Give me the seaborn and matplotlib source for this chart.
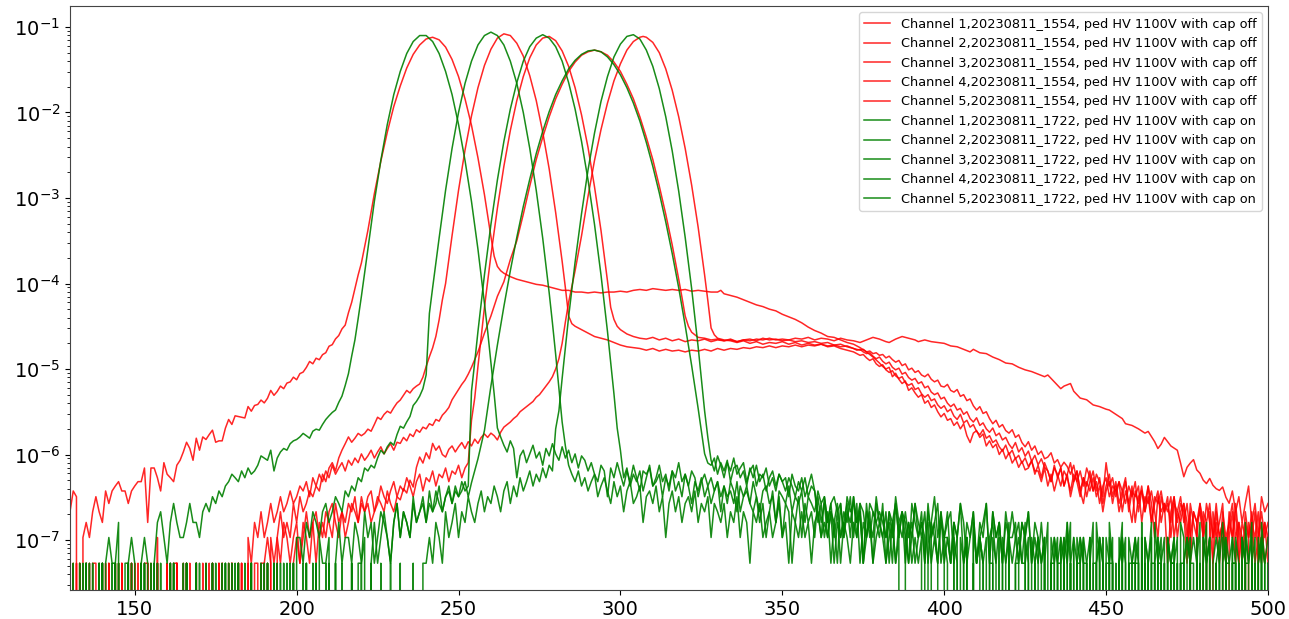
import numpy as np
import matplotlib
matplotlib.use("Agg")
import matplotlib.pyplot as plt
import seaborn as sns

# one histogram count as a fraction of all entries
UNIT = 5.35e-8

labels = [
    "Channel 1,20230811_1554, ped HV 1100V with cap off",
    "Channel 2,20230811_1554, ped HV 1100V with cap off",
    "Channel 3,20230811_1554, ped HV 1100V with cap off",
    "Channel 4,20230811_1554, ped HV 1100V with cap off",
    "Channel 5,20230811_1554, ped HV 1100V with cap off",
    "Channel 1,20230811_1722, ped HV 1100V with cap on",
    "Channel 2,20230811_1722, ped HV 1100V with cap on",
    "Channel 3,20230811_1722, ped HV 1100V with cap on",
    "Channel 4,20230811_1722, ped HV 1100V with cap on",
    "Channel 5,20230811_1722, ped HV 1100V with cap on",
]
colors = ["red"] * 5 + ["green"] * 5
x_ticks = [150, 200, 250, 300, 350, 400, 450, 500]
y_ticks = [1e-7, 1e-6, 1e-5, 1e-4, 1e-3, 1e-2, 1e-1]


def digits(s):
    return [int(c) for c in s if c.isdigit()]


def rng(a, b, step=1):
    return list(range(a, b + 1, step))


# ---------------- cap off, channel 1 ----------------
r1_left = [4, 7, 6, 0, 2, 3, 2, 4, 6, 4,
           3, 7, 5, 7, 8, 9, 7, 7, 5, 7,
           8, 9, 9, 13, 3, 13, 13, 10, 7, 15,
           11, 10, 9, 14, 16, 20, 26, 22, 16, 29,
           21, 30, 28, 32, 36, 26, 27, 27, 38, 48,
           42, 53, 52, 51, 50, 68, 60, 70, 72, 81,
           75, 85, 105, 92, 102, 118, 110, 128, 132, 150,
           140, 165, 172, 195, 229, 215, 250, 240, 275, 290,
           345, 360, 420, 460, 550, 610, 850]
r1_core_x = [217, 218, 219, 220] + rng(222, 260, 2) + [261, 262, 263, 264, 266] + rng(268, 330, 2) + [331] + rng(332, 380, 2) + rng(381, 425)
r1_core_log = ([-4.22, -4.06, -3.90, -3.76]
               + [-3.38, -2.95, -2.57, -2.23, -1.93, -1.69, -1.48, -1.32, -1.21, -1.14,
                  -1.12, -1.15, -1.235, -1.38, -1.58, -1.84, -2.15, -2.53, -2.96, -3.45]
               + [-3.68, -3.80, -3.85, -3.88, -3.92]
               + [-3.95, -3.97, -3.99, -4.01, -4.02, -4.04, -4.06, -4.08, -4.08, -4.10,
                  -4.10, -4.11, -4.10, -4.11, -4.10, -4.10, -4.09, -4.10, -4.08, -4.07,
                  -4.08, -4.06, -4.07, -4.08, -4.07, -4.08, -4.07, -4.09, -4.08, -4.09,
                  -4.10, -4.10]
               + [-4.08]
               + [-4.12, -4.14, -4.16, -4.19, -4.22, -4.25, -4.27, -4.30, -4.32, -4.36,
                  -4.39, -4.42, -4.46, -4.51, -4.55, -4.58, -4.62, -4.63, -4.66, -4.69,
                  -4.71, -4.75, -4.80, -4.86, -4.93]
               + [-4.97, -5.00, -4.98, -5.09, -5.05, -5.12, -5.17, -5.14, -5.25, -5.22,
                  -5.28, -5.33, -5.30, -5.40, -5.37, -5.45, -5.42, -5.50, -5.56, -5.52,
                  -5.60, -5.58, -5.66, -5.62, -5.70, -5.64, -5.78, -5.86, -5.75, -5.72,
                  -5.80, -5.76, -5.90, -5.84, -5.92, -5.88, -6.00, -5.94, -6.05, -5.98,
                  -6.10, -6.04, -6.15, -6.08, -6.18])
r1_right = [13, 16, 11, 14, 10, 15, 12, 9, 13, 11, 8, 12, 10, 7, 11, 9, 6, 10, 8, 12,
            7, 9, 5, 8, 10, 6, 8, 7, 9, 4, 7, 5, 8, 3, 6, 7, 4, 8, 5, 2,
            6, 4, 5, 1, 4, 6, 3, 5, 4, 1, 5, 3, 2, 5, 3, 0, 4, 2, 5, 2,
            3, 1, 4, 2, 5, 2, 0, 3, 2, 4, 1, 2, 4, 2, 3]

# ---------------- cap off, channel 2 ----------------
r2_left = digits("0010010001 1000100100 0100011000 0010010100 0001001010 0100010010 01") + [
    1, 0, 2, 1, 2, 4, 2, 3, 2, 5, 3, 6, 4, 5, 7, 6, 8, 7,
    11, 9, 13, 15, 12, 17, 21, 25, 30, 26, 29, 33, 31, 33, 37, 35, 42, 51, 48, 55,
    60, 57, 66, 75, 81, 92, 105, 98, 110, 118, 125, 150, 200, 260, 330, 450, 700, 1200]
r2_core_x = rng(246, 282, 2) + rng(283, 288) + rng(290, 306, 2) + rng(308, 374, 2) + rng(375, 438)
r2_core_log = ([-4.00, -3.44, -2.91, -2.44, -2.04, -1.71, -1.45, -1.26, -1.13, -1.08,
                -1.10, -1.19, -1.34, -1.57, -1.86, -2.23, -2.66, -3.17, -3.74]
               + [-4.05, -4.38, -4.47, -4.50, -4.52, -4.54]
               + [-4.58, -4.62, -4.64, -4.66, -4.69, -4.72, -4.74, -4.75, -4.76]
               + [-4.78, -4.76, -4.79, -4.77, -4.79, -4.78, -4.80, -4.78, -4.79, -4.77,
                  -4.79, -4.76, -4.78, -4.76, -4.77, -4.75, -4.76, -4.74, -4.75, -4.73,
                  -4.75, -4.73, -4.74, -4.72, -4.74, -4.72, -4.73, -4.71, -4.73, -4.72,
                  -4.74, -4.73, -4.76, -4.78]
               + [-4.77, -4.80, -4.79, -4.82, -4.81, -4.84, -4.83, -4.87, -4.85, -4.89,
                  -4.92, -4.90, -4.96, -4.94, -5.01, -4.99, -5.04, -5.02, -5.07, -5.09,
                  -5.06, -5.12, -5.15, -5.13, -5.20, -5.21, -5.18, -5.25, -5.27, -5.24,
                  -5.32, -5.30, -5.37, -5.35, -5.43, -5.48, -5.44, -5.52, -5.50, -5.58,
                  -5.64, -5.60, -5.68, -5.65, -5.72, -5.75, -5.71, -5.80, -5.77, -5.86,
                  -5.91, -5.85, -5.95, -5.90, -6.00, -5.96, -6.05, -6.03, -5.98, -6.10,
                  -6.06, -6.15, -6.09, -6.14])
r2_right = [11, 14, 9, 12, 8, 13, 10, 7, 11, 9, 6, 15, 8, 10, 6, 9, 7, 5, 8, 6,
            9, 4, 7, 5, 8, 3, 6, 5, 7, 4, 6, 2, 5, 4, 6, 3, 5, 2, 4, 3,
            0, 4, 3, 5, 2, 3, 1, 4, 2, 3, 5, 2, 3, 1, 4, 2, 3, 0, 2, 3, 1, 2]

# ---------------- cap off, channel 3 ----------------
r3_left = digits("0001000100 0100100010 0010001001 0000110010 0100010001 0010100100 0101001000 01") + [
    2, 1, 3, 2, 1, 3, 4, 2, 3, 2, 4, 5, 3, 2, 4, 3, 5, 4, 6, 3,
    5, 4, 6, 7, 4, 5, 8, 6, 5, 7, 9, 6, 8, 7, 10, 8, 6, 9, 11, 7,
    10, 9, 12, 8, 11, 10, 13, 9, 12, 11, 14, 10, 13, 15]
r3_core_x = [254, 255, 256] + rng(258, 296, 2) + [297, 298, 299, 300] + rng(302, 372, 2) + rng(373, 431)
r3_core_log = ([-5.6, -5.34, -4.97]
               + [-4.28, -3.67, -3.12, -2.63, -2.21, -1.86, -1.58, -1.36, -1.21, -1.13,
                  -1.11, -1.16, -1.28, -1.46, -1.71, -2.03, -2.41, -2.87, -3.38, -3.97]
               + [-4.28, -4.42, -4.50, -4.54]
               + [-4.59, -4.62, -4.64, -4.65, -4.63, -4.66, -4.64, -4.67, -4.65, -4.68,
                  -4.66, -4.67, -4.65, -4.68, -4.66, -4.67, -4.65, -4.68, -4.66, -4.65,
                  -4.67, -4.64, -4.66, -4.65, -4.67, -4.66, -4.68, -4.67, -4.69, -4.68,
                  -4.70, -4.69, -4.72, -4.71, -4.74, -4.76]
               + [-4.78, -4.77, -4.80, -4.82, -4.81, -4.85, -4.88, -4.86, -4.91, -4.94,
                  -4.92, -4.98, -5.01, -4.99, -5.06, -5.04, -5.10, -5.13, -5.11, -5.17,
                  -5.15, -5.22, -5.20, -5.27, -5.30, -5.28, -5.35, -5.33, -5.40, -5.44,
                  -5.41, -5.48, -5.46, -5.53, -5.50, -5.58, -5.62, -5.57, -5.66, -5.63,
                  -5.70, -5.74, -5.69, -5.78, -5.75, -5.83, -5.80, -5.88, -5.93, -5.86,
                  -5.97, -5.92, -6.02, -5.96, -6.08, -6.01, -6.12, -6.05, -6.15])
r3_right = [12, 9, 14, 10, 13, 8, 11, 15, 9, 12, 7, 10, 6, 9, 12, 7, 10, 5, 8, 11,
            6, 9, 5, 7, 10, 4, 7, 6, 8, 3, 6, 5, 7, 4, 2, 6, 4, 5, 3, 6,
            2, 4, 5, 3, 1, 4, 3, 5, 2, 3, 0, 4, 2, 3, 5, 1, 3, 2, 4, 1,
            3, 2, 0, 3, 2, 4, 1, 3, 2]

# ---------------- cap off, channel 4 ----------------
r4_left = digits("0100010010 0001001000 1001000102 0010010001 0100100010 0010100") + [
    2, 1, 3, 2, 4, 2, 3, 5, 3, 4, 6, 4, 5, 7, 5, 6, 8, 7, 9, 6,
    10, 8, 11, 9, 12, 10, 14, 11, 13, 15, 12, 16, 14, 17, 15, 19, 16, 18, 21, 17,
    20, 23, 19, 22, 25, 21, 26]
r4_core_x = (rng(232, 254) + rng(256, 318, 2) + rng(319, 324) + rng(326, 372, 2)
             + [374, 376, 378, 380, 382, 383, 385, 387, 389, 391, 392, 394, 396, 398, 400,
                402, 404, 406, 408, 409, 411, 413, 415, 417, 419, 421, 423, 425, 427, 429,
                431, 432, 434, 436, 437, 439, 440, 442, 444, 446, 448, 450, 451, 453, 455,
                456, 458, 460, 462, 463, 465, 466, 467, 468, 470, 472, 473, 474, 475, 476,
                477, 478, 479, 480, 481, 482, 483, 484, 485, 486, 487, 488])
r4_core_log = ([-5.87, -5.80, -5.84, -5.76, -5.79, -5.71, -5.74, -5.68, -5.70, -5.64,
                -5.66, -5.59, -5.61, -5.54, -5.50, -5.45, -5.36, -5.30, -5.24, -5.18,
                -5.13, -5.06, -4.98]
               + [-4.80, -4.58, -4.38, -4.15, -3.98, -3.72, -3.50, -3.19, -2.86, -2.55,
                  -2.29, -2.05, -1.84, -1.67, -1.52, -1.41, -1.33, -1.29, -1.27, -1.29,
                  -1.33, -1.41, -1.52, -1.67, -1.84, -2.05, -2.29, -2.55, -2.86, -3.19,
                  -3.55, -3.95]
               + [-4.16, -4.38, -4.50, -4.57, -4.60, -4.63]
               + [-4.64, -4.66, -4.65, -4.67, -4.66, -4.68, -4.66, -4.67, -4.65, -4.66,
                  -4.64, -4.66, -4.65, -4.66, -4.64, -4.65, -4.63, -4.66, -4.64, -4.65,
                  -4.67, -4.64, -4.66, -4.67]
               + [-4.69, -4.66, -4.63, -4.65, -4.68, -4.69, -4.65, -4.62, -4.64, -4.66,
                  -4.68, -4.66, -4.68, -4.69, -4.70, -4.73, -4.74, -4.77, -4.80, -4.77,
                  -4.81, -4.82, -4.86, -4.89, -4.93, -4.94, -4.98, -5.01, -5.03, -5.06,
                  -5.09, -5.07, -5.15, -5.23, -5.20, -5.17, -5.26, -5.34, -5.36, -5.42,
                  -5.44, -5.47, -5.48, -5.53, -5.58, -5.64, -5.66, -5.70, -5.75, -5.73,
                  -5.85, -5.93, -5.88, -5.80, -5.90, -5.95, -6.10, -6.26, -6.15, -6.10,
                  -6.06, -6.18, -6.22, -6.30, -6.34, -6.28, -6.36, -6.40, -6.42, -6.38,
                  -6.50, -6.57])
r4_right = [7, 4, 6, 3, 5, 8, 3, 5, 2, 6, 4, 5]

# ---------------- cap off, channel 5 ----------------
r5_left = digits("1000100100 0010001010 0100100001 0001010010 0100001001 0010010001 10") + [
    1, 2, 1, 0, 2, 1, 3, 2, 1, 2, 3, 1, 2, 4, 2, 3, 1, 3, 2, 4,
    3, 2, 5, 3, 4, 2, 3, 5, 4, 3, 6, 4, 5, 3, 4, 6, 5, 4, 7, 5, 4, 6]
r5_core_x = (rng(232, 282) + [283, 284] + rng(286, 306, 2) + [307, 308] + rng(310, 326, 2)
             + [327, 328, 329, 330] + rng(332, 372, 2) + rng(373, 428))
r5_core_log = ([-6.53, -6.40, -6.45, -6.30, -6.38, -6.15, -6.03, -6.10, -5.98, -6.05,
                -5.87, -5.95, -5.90, -6.00, -6.03, -5.94, -5.90, -5.97, -5.91, -5.86,
                -5.93, -5.85, -5.90, -5.82, -5.87, -5.80, -5.76, -5.80, -5.75, -5.78,
                -5.83, -5.74, -5.68, -5.65, -5.62, -5.58, -5.55, -5.50, -5.47, -5.44,
                -5.41, -5.38, -5.33, -5.30, -5.25, -5.20, -5.15, -5.09, -5.00, -4.88,
                -4.70]
               + [-4.45, -4.22]
               + [-3.85, -3.44, -2.98, -2.56, -2.20, -1.89, -1.63, -1.43, -1.27, -1.17, -1.12]
               + [-1.11, -1.12]
               + [-1.18, -1.30, -1.49, -1.74, -2.05, -2.42, -2.85, -3.34, -3.90]
               + [-4.20, -4.52, -4.60, -4.64]
               + [-4.66, -4.67, -4.69, -4.67, -4.70, -4.68, -4.71, -4.69, -4.70, -4.68,
                  -4.71, -4.69, -4.72, -4.70, -4.72, -4.71, -4.74, -4.73, -4.76, -4.78, -4.80]
               + [-4.82, -4.84, -4.83, -4.87, -4.90, -4.88, -4.94, -4.97, -4.95, -5.01,
                  -5.04, -5.02, -5.08, -5.11, -5.09, -5.16, -5.19, -5.17, -5.24, -5.22,
                  -5.29, -5.33, -5.30, -5.37, -5.35, -5.42, -5.46, -5.43, -5.50, -5.47,
                  -5.55, -5.59, -5.53, -5.63, -5.60, -5.68, -5.65, -5.73, -5.77, -5.71,
                  -5.81, -5.78, -5.86, -5.83, -5.91, -5.96, -5.89, -6.00, -5.95, -6.05,
                  -6.01, -6.10, -6.04, -6.14, -6.08, -6.19])
r5_right = [12, 9, 13, 8, 11, 7, 10, 13, 8, 11, 6, 9, 12, 7, 5, 9, 7, 10, 6, 8,
            4, 7, 9, 5, 8, 4, 6, 9, 5, 3, 7, 5, 8, 4, 6, 3, 5, 7, 3, 5,
            4, 6, 2, 4, 3, 5, 2, 4, 0, 3, 4, 2, 5, 3, 1, 4, 2, 3, 0, 2,
            4, 1, 3, 2, 0, 3, 2, 4, 1, 2, 3, 1]

# ---------------- cap on, channel 1 ----------------
g1_left = [1, 0, 0, 0, 1, 0, 1, 0, 0, 1,
           0, 1, 2, 1, 1, 3, 0, 1, 1, 2,
           1, 0, 1, 2, 1, 0, 1, 3,
           4, 2, 1, 3, 5, 3, 2, 2, 3, 5,
           3, 3, 2, 4, 5, 4, 6, 5, 7, 6,
           8, 9, 11, 10, 9, 12, 10, 13, 11, 12,
           14, 18, 17, 16, 21, 12, 17, 20, 22, 21,
           25, 27, 28, 30, 33, 31, 29, 35, 37, 36,
           42, 48, 53, 58, 62, 76, 90, 120, 165]
g1_core_x = [217, 218, 219, 220] + rng(222, 258, 2) + [259, 260, 261, 262]
g1_core_log = ([-4.85, -4.66, -4.41, -4.15]
               + [-3.60, -3.04, -2.56, -2.14, -1.79, -1.52, -1.31, -1.17, -1.10, -1.10,
                  -1.17, -1.31, -1.52, -1.79, -2.14, -2.56, -3.04, -3.60, -4.23]
               + [-4.56, -4.92, -5.29, -5.69])
g1_right = [30, 24, 20, 27, 22, 10, 18, 21, 15, 19, 24, 17, 20, 14, 22, 18, 25, 19, 16, 23,
            17, 21, 15, 19, 13, 18, 16, 12,
            15, 11, 9, 14, 12, 6, 13, 10, 15, 11, 8, 12, 9, 14, 10, 7, 12, 11, 13, 8,
            10, 14, 9, 11, 7, 12, 10, 15, 9, 11, 8, 12, 10, 6, 9, 11, 8, 10, 7, 9] + digits(
    "6859748675 9647856376 5846573654 7563564526 4535425434"
    "3243132423 1232032132 2132012031 2120213102 1231120121"
    "2011021010 2101001201 1010210111 0210101021 0101210102 1001201011 0210102101")

# ---------------- cap on, channel 2 ----------------
g2_left = digits("1000010001 0010000100 1000010010 0000100010 0100001000 1001000010 0010010001 00") + [
    2, 2, 1, 3, 2, 4, 3, 2, 4, 5, 3, 4, 6, 5, 4, 7, 6, 8, 7, 10,
    9, 13, 12, 14, 13, 17, 21, 19, 23, 26, 24, 32, 40, 38, 45, 52, 70, 78, 90, 110, 160]
g2_core_x = [241, 242] + rng(244, 278, 2) + [279, 280, 281, 282, 283]
g2_core_log = ([-4.35, -4.05]
               + [-3.47, -2.91, -2.42, -2.00, -1.66, -1.40, -1.21, -1.10, -1.06, -1.10,
                  -1.21, -1.40, -1.66, -2.00, -2.42, -2.91, -3.47, -4.11]
               + [-4.46, -4.83, -5.22, -5.62, -5.90])
g2_right = [14, 11, 9, 12, 8, 10, 7, 9, 11, 6, 8, 10, 7, 5, 9, 6, 8, 4, 7, 9,
            5, 6, 8, 3, 6, 7, 5, 8, 4, 6, 2, 5, 7, 4, 6, 3, 5, 6, 4, 7,
            3, 5, 4, 6, 2, 5, 4] + digits(
    "3524362431 4352342352 3143242313 4232413232 1324123123 2123120231 2120312102"
    "1021012010 2101102012 0110210101 2010112010 1021011020 1101201012 0101120101 2010211010 1201012011 0211010210")

# ---------------- cap on, channel 3 ----------------
g3_left = digits("0001000100 0010001000 1000100100 0001000010 0100100001 0010001000 0100010010 0100010") + [
    1, 0, 2, 1, 1, 2, 0, 1, 3, 1, 2, 2, 1, 3, 2, 1, 4, 2, 3, 1,
    2, 4, 3, 2, 1, 3, 5, 2, 4, 3, 2, 5, 3, 4, 6, 3, 5, 4, 7, 5,
    4, 6, 8, 5, 7, 6, 9, 7, 8]
g3_core_x = [254, 255, 256] + rng(258, 294, 2) + [296, 297, 298, 299, 300]
g3_core_log = ([-5.26, -4.92, -4.56]
               + [-3.90, -3.31, -2.79, -2.34, -1.96, -1.65, -1.40, -1.23, -1.13, -1.09,
                  -1.13, -1.23, -1.40, -1.65, -1.96, -2.34, -2.79, -3.31, -3.90]
               + [-4.56, -4.92, -5.29, -5.69, -5.95])
g3_right = [10, 13, 8, 11, 9, 12, 7, 10, 14, 8, 9, 11, 6, 10, 8, 12, 7, 9, 6, 11,
            8, 5, 9, 7, 10, 6, 8, 5, 7, 9, 4, 8, 6, 7, 5, 9, 4, 6, 8, 5] + digits(
    "4635247362 5413625342 6352431524 3625143263 4231524312 5324136241"
    "2130212031 2102310213 0121302120 1302120312 0211203102 1201302110 2013021201 1032012102 1200131021 0210120312")

# ---------------- cap on, channel 4 ----------------
g4_left = digits("0100000100 0010001000 0100010000 1000100010 0010000100 0100100010 0001000100 1000100010 0100100001 01") + [
    1, 2, 0, 1, 3, 1, 2, 4, 2, 1, 3, 5, 2, 4, 3, 2, 6, 3, 4, 5,
    3, 7, 4, 5, 8, 4, 6, 7, 5, 8, 6, 7, 9, 6]
g4_core_x = rng(254, 326, 2) + [327]
g4_core_log = [-6.33, -6.05, -5.72, -5.20, -4.72, -4.27, -3.85, -3.46, -3.10, -2.78,
               -2.48, -2.22, -1.99, -1.79, -1.63, -1.49, -1.39, -1.32, -1.28, -1.27,
               -1.29, -1.35, -1.44, -1.56, -1.71, -1.89, -2.10, -2.35, -2.63, -2.94,
               -3.28, -3.65, -4.05, -4.49, -4.96, -5.46, -5.99, -6.10]
g4_right = [14, 17, 11, 15, 12, 16, 9, 13, 14, 10, 12, 8, 13, 10, 14, 9, 11, 7, 10, 12,
            8, 11, 9, 10, 6, 11, 8, 7, 10, 6, 8, 11, 7] + digits(
    "3524135243 6251324153 2413524132 5231423512 3412531241 3251423142 2313241213"
    "1021201302 1120130210 2101201120 3012011021 2011020130 1201021102 1031201201")

# ---------------- cap on, channel 5 ----------------
g5_left = digits("0010000100 0100010000 1000100001 0001000100 0100001000 1000100010 0001001000 0100010010 0010001001 0010010010 0100100010 01") + [
    1, 2, 1, 3, 2, 1, 4, 2, 3, 5, 2, 4, 3, 6, 4, 3, 5, 7, 4, 6,
    5, 8, 6, 4, 7, 9, 5, 8, 6, 10, 7, 9, 12, 8, 11, 9, 13, 10, 14, 12]
g5_core_x = [280, 281, 282] + rng(284, 324, 2) + [325, 326, 327]
g5_core_log = ([-5.70, -5.49, -5.11]
               + [-4.39, -3.75, -3.18, -2.67, -2.24, -1.87, -1.58, -1.35, -1.20, -1.11,
                  -1.09, -1.14, -1.27, -1.46, -1.72, -2.05, -2.45, -2.92, -3.46, -4.06, -4.74]
               + [-5.11, -5.49, -5.80])
g5_right = [16, 12, 18, 14, 10, 15, 12, 17, 11, 13, 15, 9, 12, 14, 8, 11, 10, 13, 8, 10,
            7, 11, 9, 7, 10, 8, 6, 9, 7, 10, 6, 8, 7] + digits(
    "4263524135 2634152432 5142634215 3241523142 4132513241 2351423132 4213241321"
    "2012102130 1210201210 3102120121 0210312021 1201210201 3012102120 1021301210")

series = [
    (r1_left, r1_core_x, r1_core_log, r1_right),
    (r2_left, r2_core_x, r2_core_log, r2_right),
    (r3_left, r3_core_x, r3_core_log, r3_right),
    (r4_left, r4_core_x, r4_core_log, r4_right),
    (r5_left, r5_core_x, r5_core_log, r5_right),
    (g1_left, g1_core_x, g1_core_log, g1_right),
    (g2_left, g2_core_x, g2_core_log, g2_right),
    (g3_left, g3_core_x, g3_core_log, g3_right),
    (g4_left, g4_core_x, g4_core_log, g4_right),
    (g5_left, g5_core_x, g5_core_log, g5_right),
]


def assemble(left, cx, clog, right):
    assert len(cx) == len(clog), (len(cx), len(clog))
    xl = np.arange(cx[0] - len(left), cx[0])
    xr = np.arange(cx[-1] + 1, cx[-1] + 1 + len(right))
    x = np.concatenate([xl, np.asarray(cx), xr]).astype(float)
    y = np.concatenate([np.asarray(left) * UNIT, 10.0 ** np.asarray(clog), np.asarray(right) * UNIT])
    return x, y


fig = plt.figure(figsize=(12.89, 6.19), dpi=100)
ax = fig.add_axes([0.0543, 0.0468, 0.9294, 0.9435])

for (left, cx, clog, right), lab, col in zip(series, labels, colors):
    x, y = assemble(left, cx, clog, right)
    sns.lineplot(x=x, y=y, ax=ax, color=col, label=lab, linewidth=1.1,
                 alpha=0.85 if col == "red" else 0.9, estimator=None)

ax.set_yscale("log", nonpositive="clip")
ax.set_xlim(130, 500)
ax.set_ylim(2.6e-8, 0.176)
ax.set_xticks(x_ticks)
ax.set_yticks(y_ticks)
ax.tick_params(axis="both", which="major", labelsize=14)
ax.set_xlabel("")
ax.set_ylabel("")
for sp in ax.spines.values():
    sp.set_edgecolor("#444444")
ax.legend(loc="upper right", fontsize=9.3)

fig.savefig("out.png", dpi=100)
